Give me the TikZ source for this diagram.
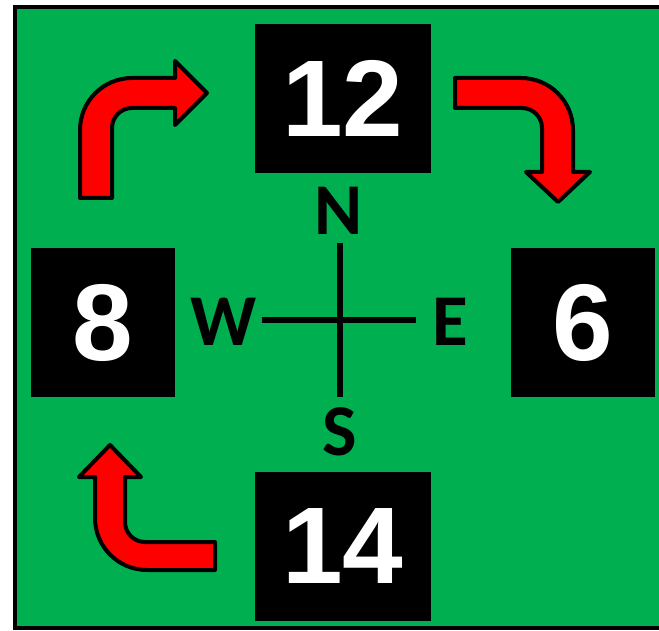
\documentclass[tikz,border=0pt]{standalone}
\usepackage{fontspec}
\newfontfamily\digitfont{Liberation Sans}
\newfontfamily\letterfont{Carlito}
\definecolor{bggreen}{RGB}{0,176,80}
\definecolor{arrowred}{RGB}{255,0,0}
\begin{document}
\begin{tikzpicture}[x=1pt,y=1pt,
  numbox/.style={fill=black,text=white,inner sep=0pt,minimum height=149pt,
    font=\digitfont\bfseries\fontsize{109}{109}\selectfont},
  dirlabel/.style={inner sep=0pt,text=black,font=\letterfont\bfseries\fontsize{73}{73}\selectfont},
  turnarrow/.style={fill=arrowred,draw=black,line width=4pt,line join=round},
  compassline/.style={draw=black,line width=6pt}]
\useasboundingbox (0,0) rectangle (659,630);
\draw[fill=bggreen,draw=black,line width=4pt] (14.5,2) rectangle (668,623);
% boxes
\node[numbox,minimum width=176pt] (n12) at (343,531.5) {12};
\node[numbox,minimum width=176pt] (n14) at (343,83.5) {14};
\node[numbox,minimum width=144pt] (n8) at (103,307.5) {8};
\node[numbox,minimum width=144pt] (n6) at (583,307.5) {6};
% compass
\coordinate (cn) at (340,387);
\coordinate (cs) at (340,233);
\coordinate (cw) at (262,310);
\coordinate (ce) at (416,310);
\draw[compassline] (cn) -- (cs);
\draw[compassline] (cw) -- (ce);
\node[dirlabel] (lN) at (339,419.5) {N};
\node[dirlabel] (lS) at (340,198) {S};
\node[dirlabel] (lW) at (223.5,308.5) {W};
\node[dirlabel] (lE) at (450,308.5) {E};
% arrows
\draw[turnarrow] (80,432) -- (80,500) arc[start angle=180,end angle=90,radius=52pt]
  -- (175,552) -- (175,569) -- (207,537) -- (175,505) -- (175,522) -- (132,522)
  arc[start angle=90,end angle=180,radius=20pt] -- (112,432) -- cycle;
\draw[turnarrow] (455,552) -- (521,552) arc[start angle=90,end angle=0,radius=52pt]
  -- (573,458) -- (590,458) -- (558,428) -- (526,458) -- (542,458) -- (542,502)
  arc[start angle=0,end angle=90,radius=20pt] -- (455,522) -- cycle;
\draw[turnarrow] (215,60) -- (147,60) arc[start angle=270,end angle=180,radius=52pt]
  -- (95,153) -- (79,153) -- (110,185) -- (141,153) -- (125,153) -- (125,108)
  arc[start angle=180,end angle=270,radius=20pt] -- (215,88) -- cycle;
\end{tikzpicture}
\end{document}
